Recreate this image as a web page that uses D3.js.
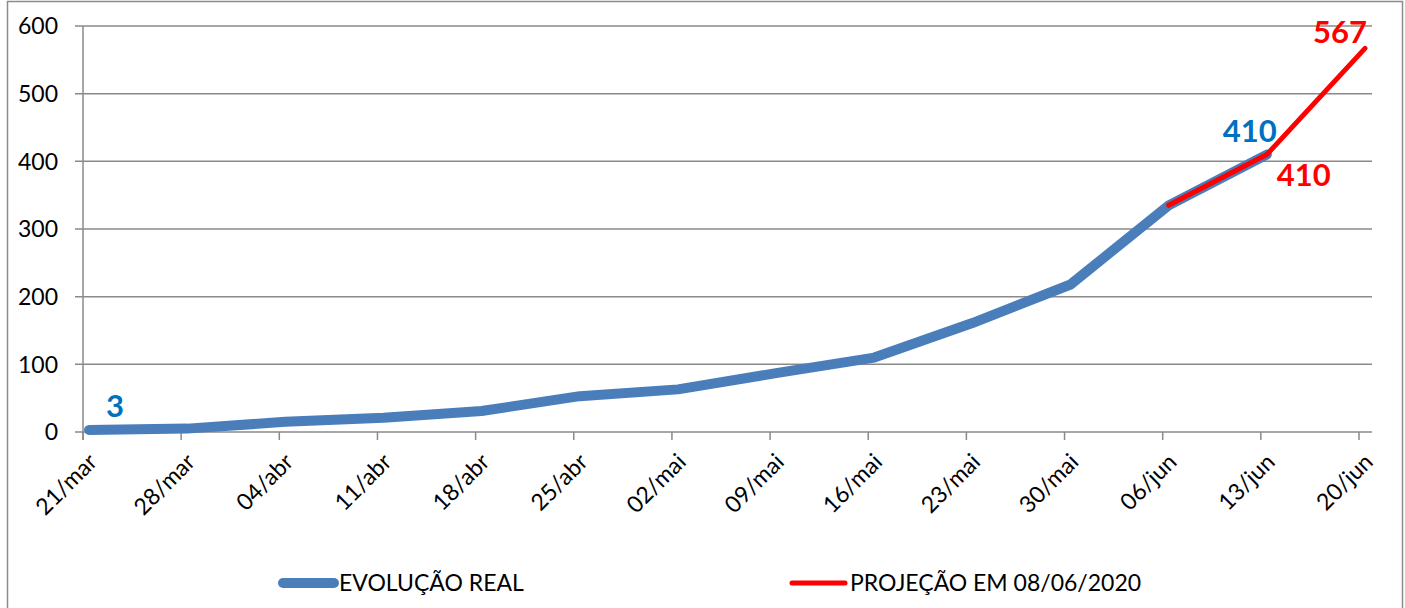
<!DOCTYPE html>
<html>
<head>
<meta charset="utf-8">
<script src="https://cdn.jsdelivr.net/npm/d3@7"></script>
<style>
  body { margin: 0; background: #fff; }
  svg text { font-family: Lato, "Open Sans", sans-serif; }
</style>
</head>
<body>
<svg id="chart" width="1405" height="608"></svg>
<script>
// weekly dates (category axis)
const dates = ["21/mar", "28/mar", "04/abr", "11/abr", "18/abr", "25/abr", "02/mai",
               "09/mai", "16/mai", "23/mai", "30/mai", "06/jun", "13/jun", "20/jun"];
// real evolution (blue)
const real = [3, 5, 15, 21, 31, 53, 63, 87, 110, 161, 218, 335, 410];
// projection made on 08/06/2020 (red), starts at 06/jun
const projStart = 11;
const projection = [335, 410, 567];
const yTicks = [0, 100, 200, 300, 400, 500, 600];

const svg = d3.select("#chart");

// outer frame
svg.append("rect")
   .attr("x", 7.5).attr("y", 1.5)
   .attr("width", 1395).attr("height", 610)
   .attr("fill", "none").attr("stroke", "#8c8c8c").attr("stroke-width", 1.5);

const x = d3.scaleLinear().domain([0, dates.length - 1]).range([83, 1359]);
const ptOffset = 6;  // points sit a little right of the tick marks
const px = i => x(i) + ptOffset;
const y = d3.scaleLinear().domain([0, 600]).range([432, 26]);

// horizontal gridlines + left ticks
svg.append("g").selectAll("line").data(yTicks).join("line")
   .attr("x1", 75).attr("x2", 1372)
   .attr("y1", d => y(d)).attr("y2", d => y(d))
   .attr("stroke", "#8a8a8a").attr("stroke-width", 1.5);

// y axis line
svg.append("line")
   .attr("x1", 83).attr("x2", 83).attr("y1", y(600)).attr("y2", 440)
   .attr("stroke", "#8a8a8a").attr("stroke-width", 1.5);

// y labels
svg.append("g").selectAll("text").data(yTicks).join("text")
   .attr("x", 58).attr("y", d => y(d)).attr("dy", "0.36em")
   .attr("text-anchor", "end").attr("font-size", 23).attr("fill", "#000")
   .text(d => d);

// x tick marks
svg.append("g").selectAll("line").data(dates).join("line")
   .attr("x1", (d, i) => x(i)).attr("x2", (d, i) => x(i))
   .attr("y1", 432).attr("y2", 440)
   .attr("stroke", "#8a8a8a").attr("stroke-width", 1.5);

// x labels, rotated
svg.append("g").selectAll("text").data(dates).join("text")
   .attr("transform", (d, i) => `translate(${x(i) + 4},${452}) rotate(-45)`)
   .attr("text-anchor", "end").attr("font-size", 23).attr("fill", "#000")
   .attr("dy", "0.7em")
   .text(d => d);

const line = d3.line().x(d => px(d.i)).y(d => y(d.v));

svg.append("path")
   .datum(real.map((v, i) => ({i, v})))
   .attr("d", line)
   .attr("fill", "none").attr("stroke", "#4a7ebb").attr("stroke-width", 10)
   .attr("stroke-linecap", "round").attr("stroke-linejoin", "round");

svg.append("path")
   .datum(projection.map((v, k) => ({i: projStart + k, v})))
   .attr("d", line)
   .attr("fill", "none").attr("stroke", "#ff0000").attr("stroke-width", 5)
   .attr("stroke-linecap", "round").attr("stroke-linejoin", "round");

// data labels
const realLabels = [0, real.length - 1];
svg.append("g").selectAll("text").data(realLabels).join("text")
   .attr("x", i => px(i) + (i === 0 ? 26 : -17))
   .attr("y", i => y(real[i]) - 13)
   .attr("text-anchor", "middle").attr("font-size", 31).attr("font-weight", "bold")
   .attr("fill", "#0070c0")
   .text(i => real[i]);

const projLabels = [1, 2];
svg.append("g").selectAll("text").data(projLabels).join("text")
   .attr("x", k => px(projStart + k) + (k === 1 ? 37 : -25))
   .attr("y", k => y(projection[k]) + (k === 1 ? 31 : -5))
   .attr("text-anchor", "middle").attr("font-size", 31).attr("font-weight", "bold")
   .attr("fill", "#ff0000")
   .text(k => projection[k]);

// legend
const legend = [
  {name: "EVOLUÇÃO REAL", color: "#4a7ebb", w: 10, x1: 283, x2: 334},
  {name: "PROJEÇÃO EM 08/06/2020", color: "#ff0000", w: 5, x1: 792, x2: 845}
];
const lg = svg.append("g").selectAll("g").data(legend).join("g");
lg.append("line")
  .attr("x1", d => d.x1).attr("x2", d => d.x2).attr("y1", 583).attr("y2", 583)
  .attr("stroke", d => d.color).attr("stroke-width", d => d.w).attr("stroke-linecap", "round");
lg.append("text")
  .attr("x", d => d.x2 + 5).attr("y", 591)
  .attr("font-size", 23).attr("fill", "#000")
  .text(d => d.name);
</script>
</body>
</html>
